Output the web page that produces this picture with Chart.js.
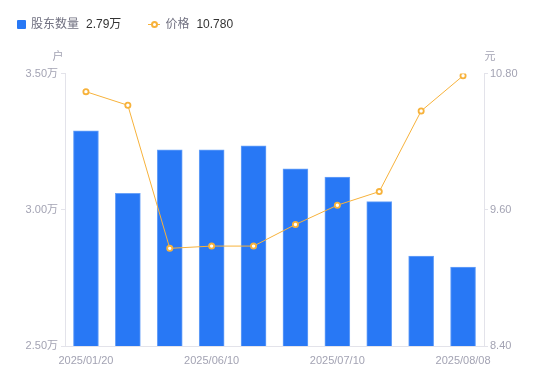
<!DOCTYPE html>
<html>
<head>
<meta charset="utf-8">
<script src="https://cdn.jsdelivr.net/npm/chart.js@4/dist/chart.umd.min.js"></script>
<style>
  html, body { margin: 0; padding: 0; background: #fff; }
  #wrap { position: relative; width: 550px; height: 381px; font-family: "Liberation Sans", "Noto Sans CJK SC", sans-serif; }
  #c { position: absolute; left: 0; top: 0; }
  #legend { position: absolute; left: 17px; top: 16px; font-size: 12px; line-height: 16px; display: flex; align-items: center; white-space: nowrap; }
  .item { display: flex; align-items: center; margin-right: 27px; }
  .sq { width: 9px; height: 9px; background: #2878f5; border-radius: 1px; margin-right: 5px; }
  .ln { position: relative; width: 12px; height: 9px; margin-right: 5px; }
  .ln::before { content: ""; position: absolute; left: 0; right: 0; top: 4px; height: 1px; background: #f7b23b; }
  .ln::after { content: ""; position: absolute; left: 2.5px; top: 1.5px; width: 3px; height: 3px; border: 2px solid #f7b23b; border-radius: 50%; background: #fff; }
  .nm { color: #707080; margin-right: 7px; }
  .vl { color: #333; }
</style>
</head>
<body>
<div id="wrap">
  <canvas id="c" width="550" height="381"></canvas>
  <div id="legend"></div>
</div>
<script>
const categories = ["2025/01/20","2025/03/31","2025/05/20","2025/06/10","2025/06/20","2025/06/30","2025/07/10","2025/07/20","2025/07/31","2025/08/08"];
const holders = [3.29, 3.06, 3.22, 3.22, 3.235, 3.15, 3.12, 3.03, 2.83, 2.79];
const prices = [10.64, 10.52, 9.26, 9.28, 9.28, 9.47, 9.64, 9.76, 10.47, 10.78];
const leftTicks = [2.5, 3.0, 3.5];
const rightTicks = [8.4, 9.6, 10.8];
const seriesNames = ["股东数量", "价格"];
const legendValues = ["2.79万", "10.780"];
const unitLeft = "户";
const unitRight = "元";

const BLUE = "#2878f5", ORANGE = "#f7b23b", AXIS = "#e3e3ea", TXT = "#a3a3b3";
const FONT = '"Liberation Sans", "Noto Sans CJK SC", sans-serif';

document.getElementById('legend').innerHTML =
  '<div class="item"><span class="sq"></span><span class="nm">' + seriesNames[0] + '</span><span class="vl">' + legendValues[0] + '</span></div>' +
  '<div class="item"><span class="ln"></span><span class="nm">' + seriesNames[1] + '</span><span class="vl">' + legendValues[1] + '</span></div>';

const unitPlugin = {
  id: 'units',
  afterDraw(chart) {
    const ctx = chart.ctx;
    ctx.save();
    ctx.font = '11px ' + FONT;
    ctx.fillStyle = TXT;
    ctx.textBaseline = 'middle';
    ctx.textAlign = 'center';
    ctx.fillText(unitLeft, chart.chartArea.left - 7, 57);
    ctx.fillText(unitRight, chart.chartArea.right + 6, 57);
    ctx.restore();
  }
};

new Chart(document.getElementById('c'), {
  data: {
    labels: categories,
    datasets: [
      {
        type: 'line', label: seriesNames[1], data: prices, yAxisID: 'y1',
        borderColor: ORANGE, borderWidth: 1, backgroundColor: '#fff',
        pointRadius: 2.6, pointBorderWidth: 1.8, pointBackgroundColor: '#fff', pointBorderColor: ORANGE,
        tension: 0, order: 0
      },
      {
        type: 'bar', label: seriesNames[0], data: holders, yAxisID: 'y',
        backgroundColor: BLUE, borderColor: '#6aa2f8', borderWidth: {top: 1, left: 1, right: 1, bottom: 0},
        barThickness: 25, order: 1
      }
    ]
  },
  options: {
    responsive: false,
    animation: false,
    layout: { padding: { left: 0, right: 0, top: 73.5, bottom: 0 } },
    plugins: { legend: { display: false }, tooltip: { enabled: false } },
    scales: {
      x: {
        offset: true,
        grid: { display: false },
        border: { color: AXIS, width: 1 },
        ticks: {
          color: TXT, font: { family: FONT, size: 11 }, maxRotation: 0, autoSkip: false, padding: 0,
          callback: function(v, i) { return i % 3 === 0 ? categories[i] : ''; }
        },
        afterFit(s) { s.height = 35; }
      },
      y: {
        position: 'left', min: 2.5, max: 3.5,
        afterBuildTicks(s) { s.ticks = leftTicks.map(v => ({ value: v })); },
        grid: { drawOnChartArea: false, color: AXIS, tickLength: 4 },
        border: { color: AXIS, width: 1 },
        ticks: { color: TXT, font: { family: FONT, size: 11 }, padding: 3, callback: v => v.toFixed(2) + '万' },
        afterFit(s) { s.width = 65; }
      },
      y1: {
        position: 'right', min: 8.4, max: 10.8,
        afterBuildTicks(s) { s.ticks = rightTicks.map(v => ({ value: v })); },
        grid: { drawOnChartArea: false, color: AXIS, tickLength: 4 },
        border: { color: AXIS, width: 1 },
        ticks: { color: TXT, font: { family: FONT, size: 11 }, padding: 2, callback: v => v.toFixed(2) },
        afterFit(s) { s.width = 66; }
      }
    }
  },
  plugins: [unitPlugin]
});
</script>
</body>
</html>
